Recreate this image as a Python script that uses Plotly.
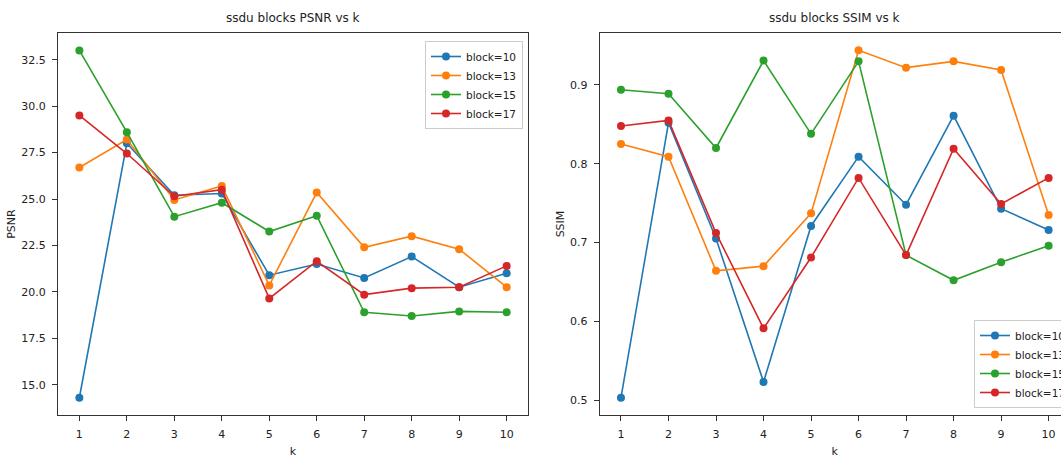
import plotly.graph_objects as go

k = [1, 2, 3, 4, 5, 6, 7, 8, 9, 10]
blocks = ["block=10", "block=13", "block=15", "block=17"]
colors = ["#1f77b4", "#ff7f0e", "#2ca02c", "#d62728"]

psnr_b10 = [14.3, 28.0, 25.2, 25.3, 20.9, 21.5, 20.75, 21.9, 20.25, 21.0]
psnr_b13 = [26.7, 28.2, 24.95, 25.7, 20.35, 25.35, 22.4, 23.0, 22.3, 20.25]
psnr_b15 = [33.0, 28.6, 24.05, 24.8, 23.25, 24.1, 18.9, 18.7, 18.95, 18.9]
psnr_b17 = [29.5, 27.45, 25.15, 25.5, 19.65, 21.65, 19.85, 20.2, 20.25, 21.4]

ssim_b10 = [0.503, 0.852, 0.705, 0.523, 0.721, 0.809, 0.748, 0.861, 0.743, 0.716]
ssim_b13 = [0.825, 0.809, 0.664, 0.670, 0.737, 0.944, 0.922, 0.930, 0.919, 0.735]
ssim_b15 = [0.894, 0.889, 0.820, 0.931, 0.838, 0.930, 0.684, 0.652, 0.675, 0.696]
ssim_b17 = [0.848, 0.855, 0.712, 0.591, 0.681, 0.782, 0.684, 0.819, 0.749, 0.782]

psnr = [psnr_b10, psnr_b13, psnr_b15, psnr_b17]
ssim = [ssim_b10, ssim_b13, ssim_b15, ssim_b17]

FONT = "DejaVu Sans"
fig = go.Figure()

for name, c, ys in zip(blocks, colors, psnr):
    fig.add_trace(go.Scatter(x=k, y=ys, mode="lines+markers", name=name,
                             line=dict(color=c, width=1.6),
                             marker=dict(color=c, size=8),
                             xaxis="x", yaxis="y", legend="legend"))
for name, c, ys in zip(blocks, colors, ssim):
    fig.add_trace(go.Scatter(x=k, y=ys, mode="lines+markers", name=name,
                             line=dict(color=c, width=1.6),
                             marker=dict(color=c, size=8),
                             xaxis="x2", yaxis="y2", legend="legend2"))

# page coordinates (body margin removed by post_script); right panel runs past the window edge
W, H = 1080, 458
ML, MR, MT, MB = 0, 10, 33, 43
PW = W - ML - MR
PH = H - MT - MB
bottom_px = H - MB

axis_common = dict(showgrid=False, zeroline=False, showline=True, linecolor="#333333",
                   linewidth=1, ticks="outside", ticklen=5, tickcolor="#333333",
                   ticklabelstandoff=4,
                   tickfont=dict(family=FONT, size=11, color="#222222"))

legend_common = dict(bgcolor="rgba(255,255,255,0.85)", bordercolor="#cccccc", borderwidth=1,
                     font=dict(family=FONT, size=10.5, color="#222222"), tracegroupgap=0,
                     itemwidth=30)

fig.update_layout(
    width=W, height=H,
    margin=dict(l=ML, r=MR, t=MT, b=MB, autoexpand=False),
    paper_bgcolor="white", plot_bgcolor="white",
    hovermode=False,
    font=dict(family=FONT, size=11, color="#222222"),
    xaxis=dict(domain=[58 / PW, 528 / PW], range=[0.55, 10.45], tickvals=k, mirror=True,
               title=dict(text="k", standoff=7, font=dict(family=FONT, size=11)), anchor="y",
               **axis_common),
    yaxis=dict(domain=[0, 1], range=[13.37, 33.94], tickvals=[15, 17.5, 20, 22.5, 25, 27.5, 30, 32.5],
               ticktext=["15.0", "17.5", "20.0", "22.5", "25.0", "27.5", "30.0", "32.5"], mirror=True,
               title=dict(text="PSNR", standoff=3, font=dict(family=FONT, size=11)), anchor="x",
               **axis_common),
    xaxis2=dict(domain=[599.6 / PW, 1.0], range=[0.55, 10.45], tickvals=k, mirror=True,
                title=dict(text="k", standoff=7, font=dict(family=FONT, size=11)), anchor="y2",
                **axis_common),
    yaxis2=dict(domain=[0, 1], range=[0.481, 0.966], tickvals=[0.5, 0.6, 0.7, 0.8, 0.9],
                ticktext=["0.5", "0.6", "0.7", "0.8", "0.9"], mirror=True,
                title=dict(text="SSIM", standoff=3, font=dict(family=FONT, size=11)), anchor="x2",
                **axis_common),
    legend=dict(x=523 / PW, xanchor="right", y=(bottom_px - 41) / PH, yanchor="top", **legend_common),
    legend2=dict(x=974 / PW, xanchor="left", y=(bottom_px - 408) / PH, yanchor="bottom", **legend_common),
    annotations=[
        dict(text="ssdu blocks PSNR vs k", x=(58 + 528) / 2 / PW, y=1, xref="paper", yref="paper",
             yshift=6, yanchor="bottom", xanchor="center", showarrow=False,
             font=dict(family=FONT, size=12, color="#222222")),
        dict(text="ssdu blocks SSIM vs k", x=(599.6 + PW) / 2 / PW, y=1, xref="paper", yref="paper",
             yshift=6, yanchor="bottom", xanchor="center", showarrow=False,
             font=dict(family=FONT, size=12, color="#222222")),
    ],
)

fig.write_html(
    "out.html",
    config={"displayModeBar": False, "staticPlot": True},
    post_script="document.body.style.margin='0';document.body.style.overflow='hidden';"
                "document.documentElement.style.overflow='hidden';",
)
